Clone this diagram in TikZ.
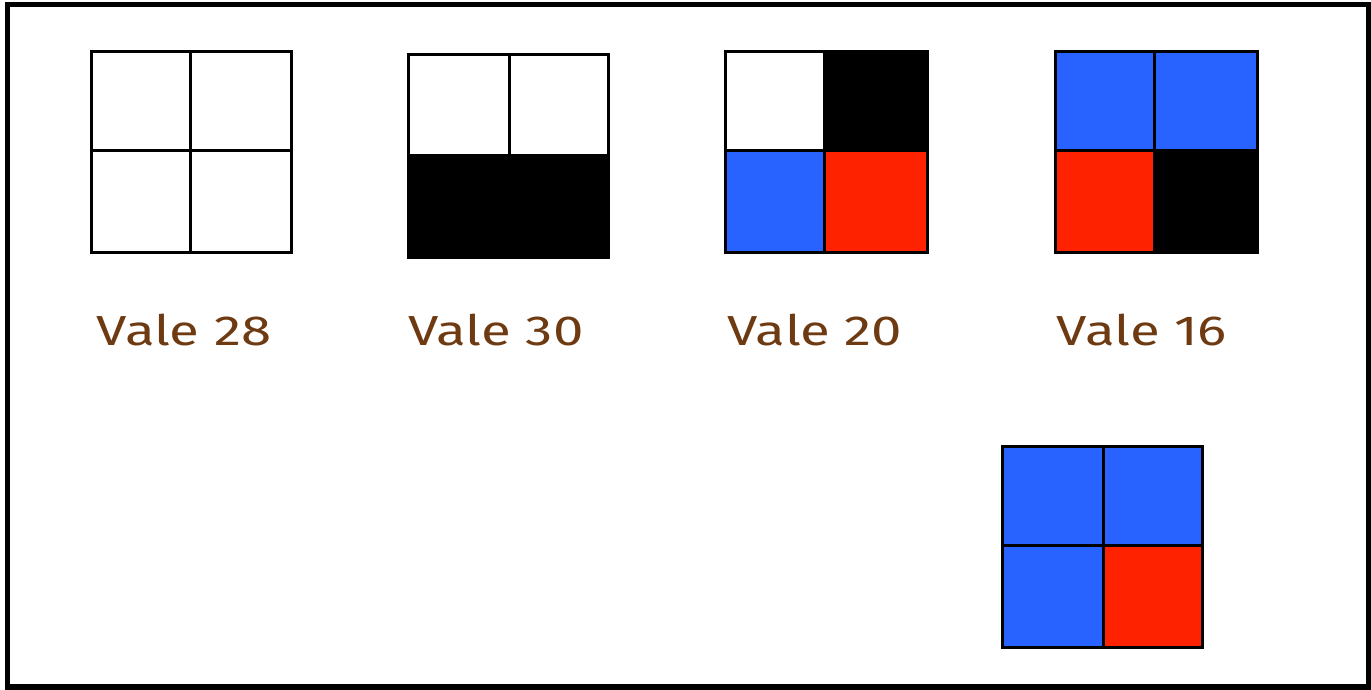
\documentclass[tikz,border=0pt]{standalone}
\usepackage{fontspec}
\setmainfont{Fira Sans}
\definecolor{cblue}{HTML}{2862FF}
\definecolor{cred}{HTML}{FF2200}
\definecolor{cbrown}{HTML}{6E3A12}
\tikzset{
  grid/.style={draw=black, line width=3pt},
  frame/.style={draw=black, line width=5.5pt},
  lbl/.style={text=cbrown, font=\fontsize{42}{42}\selectfont, anchor=base, inner sep=0pt}
}
\newcommand{\vlab}[1]{\scalebox{1.3}[1]{#1}}
\begin{document}
\begin{tikzpicture}[x=1pt,y=-1pt]
\useasboundingbox (0,0) rectangle (1371,690);
\fill[white] (0,0) rectangle (1371,690);
\draw[frame] (7.5,4.5) rectangle (1368.5,687);

% square 1: all white
\draw[grid] (91,52) rectangle (291,252);
\draw[grid] (190,52) -- (190,252);
\draw[grid] (91,151) -- (291,151);

% square 2: white top, black bottom
\fill[black] (408,156) rectangle (608,257);
\draw[grid] (408,55) rectangle (608,257);
\draw[grid] (509,55) -- (509,156);
\draw[grid] (408,156) -- (608,156);

% square 3
\fill[black] (824,52) rectangle (927,151);
\fill[cblue] (725,151) rectangle (824,252);
\fill[cred] (824,151) rectangle (927,252);
\draw[grid] (725,52) rectangle (927,252);
\draw[grid] (824,52) -- (824,252);
\draw[grid] (725,151) -- (927,151);

% square 4
\fill[cblue] (1055,52) rectangle (1257,151);
\fill[cred] (1055,151) rectangle (1154,252);
\fill[black] (1154,151) rectangle (1257,252);
\draw[grid] (1055,52) rectangle (1257,252);
\draw[grid] (1154,52) -- (1154,252);
\draw[grid] (1055,151) -- (1257,151);

% square 5
\fill[cblue] (1002,446) rectangle (1202,647);
\fill[cred] (1103,545) rectangle (1202,647);
\draw[grid] (1002,446) rectangle (1202,647);
\draw[grid] (1103,446) -- (1103,647);
\draw[grid] (1002,545) -- (1202,545);

\node[lbl] (l28) at (184,345) {\vlab{Vale 28}};
\node[lbl] (l30) at (496,345) {\vlab{Vale 30}};
\node[lbl] (l20) at (815,345) {\vlab{Vale 20}};
\node[lbl] (l16) at (1142,345) {\vlab{Vale 16}};
\end{tikzpicture}
\end{document}
